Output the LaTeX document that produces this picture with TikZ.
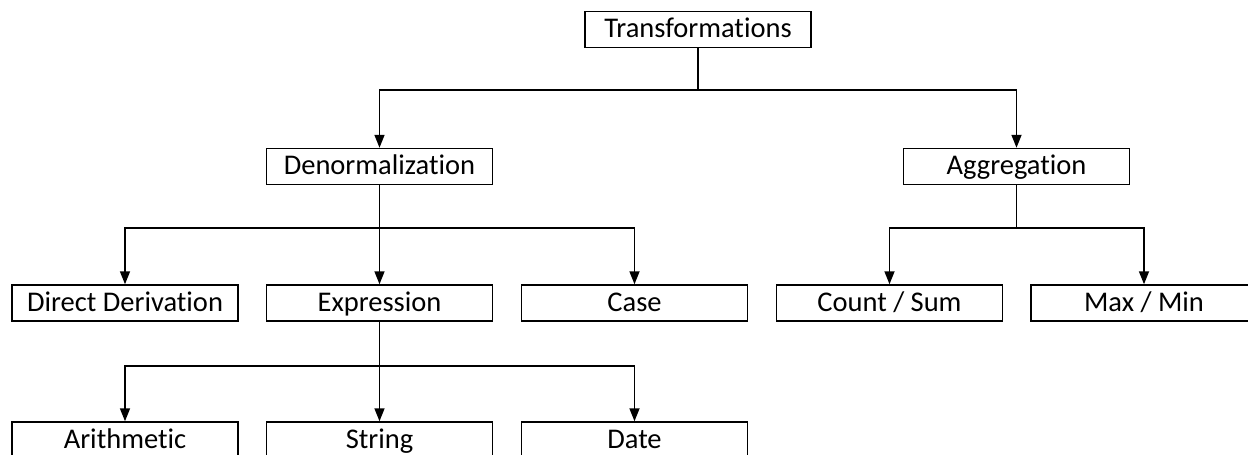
\documentclass[tikz,border=0pt]{standalone}
\usepackage{fontspec}
\setmainfont{Carlito}[Ligatures={NoCommon,NoRare}]
\usetikzlibrary{arrows.meta}
\begin{document}
\begin{tikzpicture}[x=1pt,y=-1pt,
  box/.style={draw,line width=1.5pt,minimum width=226pt,minimum height=36pt,
    inner sep=0pt,text height=19.5pt,text depth=3pt,
    font=\fontsize{28.5}{32}\selectfont},
  link/.style={line width=1.7pt},
  arr/.style={line width=1.7pt,-{Triangle[length=13pt,width=10pt]}}]
\useasboundingbox (0,0) rectangle (1248,455);
% tree nodes
\node[box] (tr)  at (698,29.5)  {Transformations};
\node[box] (den) at (379.5,166.5) {Denormalization};
\node[box] (agg) at (1016.5,166.5) {Aggregation};
\node[box] (dd)  at (125,303) {Direct Derivation};
\node[box] (ex)  at (379.5,303) {Expression};
\node[box] (ca)  at (634.5,303) {Case};
\node[box] (cs)  at (889.5,303) {Count / Sum};
\node[box] (mm)  at (1144,303) {Max / Min};
\node[box] (ar)  at (125,440) {Arithmetic};
\node[box] (st)  at (379.5,440) {String};
\node[box] (da)  at (634.5,440) {Date};
% junction points
\coordinate (j1) at (698,90);
\coordinate (j2) at (379.5,228);
\coordinate (j3) at (1016.5,228);
\coordinate (j4) at (379.5,366);
% connectors
\draw[link] (tr.south) -- (j1);
\draw[arr] (j1) -| (den.north);
\draw[arr] (j1) -| (agg.north);
\draw[link] (den.south) -- (j2);
\draw[arr] (j2) -| (dd.north);
\draw[arr] (den.south) -- (ex.north);
\draw[arr] (j2) -| (ca.north);
\draw[link] (agg.south) -- (j3);
\draw[arr] (j3) -| (cs.north);
\draw[arr] (j3) -| (mm.north);
\draw[link] (ex.south) -- (j4);
\draw[arr] (j4) -| (ar.north);
\draw[arr] (ex.south) -- (st.north);
\draw[arr] (j4) -| (da.north);
\end{tikzpicture}
\end{document}
